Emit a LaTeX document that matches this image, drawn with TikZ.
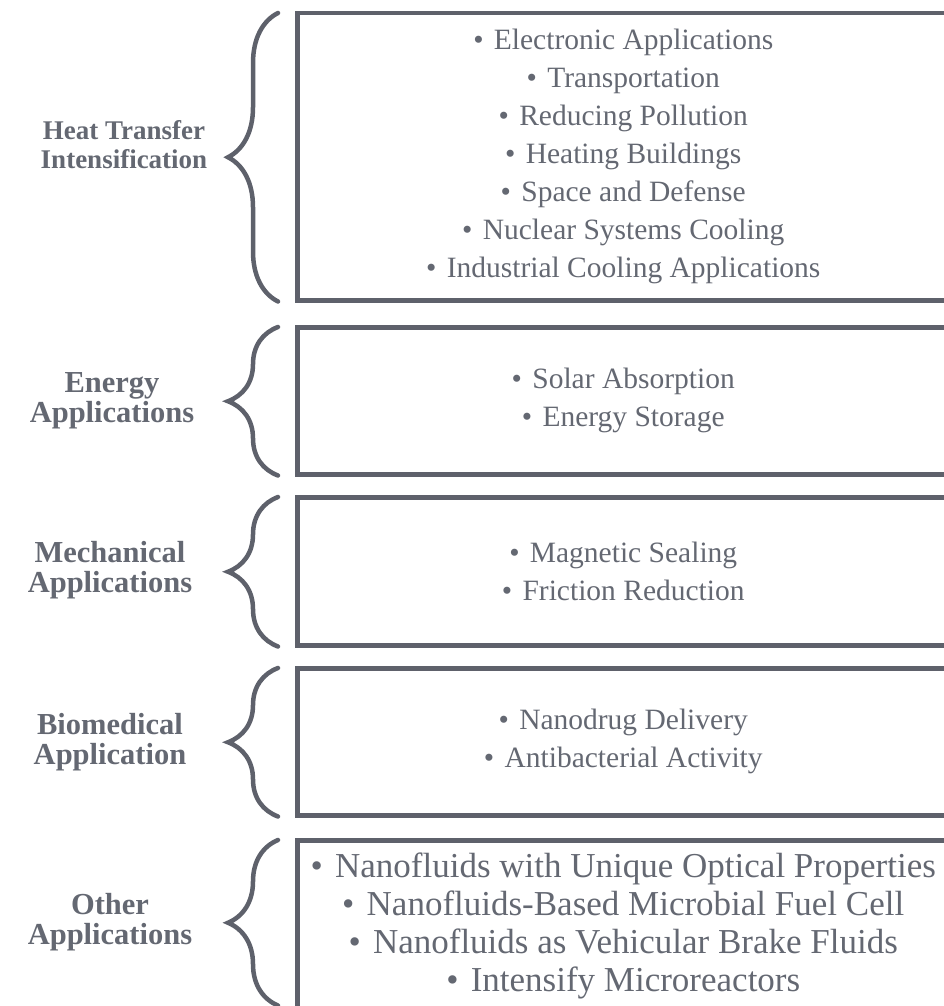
\documentclass[tikz,border=0pt]{standalone}
\usepackage{fontspec}
\setmainfont{Liberation Serif}
\usetikzlibrary{decorations.pathreplacing}
\definecolor{fgray}{RGB}{94, 97, 107}
\definecolor{tgray}{RGB}{100, 104, 114}
\newcommand{\itm}{\textbullet\hspace{0.35em}}
\tikzset{appbox/.style = {draw = fgray, line width = 4.5, rectangle, anchor = north west,
    inner sep = 0, minimum width = 652, align = center, text = tgray,
    font = \fontsize{29.5}{38}\selectfont}}
\tikzset{grp/.style = {align = center, text = tgray, inner sep = 0,
    font = \bfseries\fontsize{30.5}{30}\selectfont}}
\tikzset{curly/.style = {draw = fgray, line width = 4.5, line cap = round,
    decorate, decoration = {brace, amplitude = 50pt}}}

\begin{document}
\begin{tikzpicture}[x = 1pt, y = -1pt]
        \useasboundingbox (0, 0) rectangle (943, 1006);
        % boxes with the applications
        \node [appbox, minimum height = 287] (heat) at (295, 11)
            {\itm Electronic Applications\\ \itm Transportation\\
             \itm Reducing Pollution\\ \itm Heating Buildings\\
             \itm Space and Defense\\ \itm Nuclear Systems Cooling\\
             \itm Industrial Cooling Applications};
        \node [appbox, minimum height = 147] (energy) at (295, 325)
            {\itm Solar Absorption\\ \itm Energy Storage};
        \node [appbox, minimum height = 148] (mech) at (295, 495)
            {\itm Magnetic Sealing\\ \itm Friction Reduction};
        \node [appbox, minimum height = 147] (bio) at (295, 666)
            {\itm Nanodrug Delivery\\ \itm Antibacterial Activity};
        \node [appbox, minimum height = 172, font = \fontsize{35}{38}\selectfont] (other) at (295, 838)
            {\itm Nanofluids with Unique Optical Properties\\
             \itm Nanofluids-Based Microbial Fuel Cell\\
             \itm Nanofluids as Vehicular Brake Fluids\\
             \itm Intensify Microreactors};
        % group names
        \node [grp, font = \bfseries\fontsize{27}{29}\selectfont] (heatlbl) at (124, 145) {Heat Transfer\\ Intensification};
        \node [grp] (energylbl) at (112, 401) {Energy\\ Applications};
        \node [grp] (mechlbl) at (110, 570) {Mechanical\\ Applications};
        \node [grp] (biolbl) at (110, 742) {Biomedical\\ Application};
        \node [grp] (otherlbl) at (110, 922) {Other\\ Applications};
        % braces
        \draw [curly] ([xshift = -17pt, yshift = 1pt]heat.south west) -- ([xshift = -17pt, yshift = -2pt]heat.north west);
        \draw [curly] ([xshift = -17pt, yshift = 1pt]energy.south west) -- ([xshift = -17pt, yshift = -2pt]energy.north west);
        \draw [curly] ([xshift = -17pt, yshift = 1pt]mech.south west) -- ([xshift = -17pt, yshift = -2pt]mech.north west);
        \draw [curly] ([xshift = -17pt, yshift = 1pt]bio.south west) -- ([xshift = -17pt, yshift = -2pt]bio.north west);
        \draw [curly] ([xshift = -17pt, yshift = 9pt]other.south west) -- ([xshift = -17pt, yshift = -2pt]other.north west);
      \end{tikzpicture}
\end{document}
